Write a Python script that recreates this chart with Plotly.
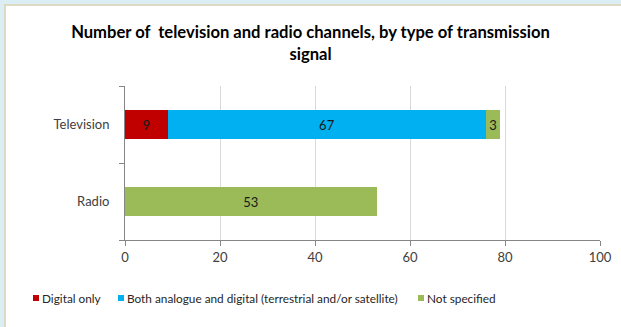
import plotly.graph_objects as go

categories = ["Radio", "Television"]
digital_only = [0, 9]
both_analogue_digital = [0, 67]
not_specified = [53, 3]
series_names = ["Digital only",
                "Both analogue and digital (terrestrial and/or satellite)",
                "Not specified"]
x_ticks = [0, 20, 40, 60, 80, 100]

colors = ["#C00000", "#00B0F0", "#9BBB59"]
font = "Lato, Calibri, sans-serif"

fig = go.Figure()
for name, vals, col in zip(series_names, [digital_only, both_analogue_digital, not_specified], colors):
    fig.add_trace(go.Bar(
        y=categories, x=vals, name=name, orientation="h",
        marker=dict(color=col, line=dict(width=0)),
        text=[str(v) if v else "" for v in vals],
        textposition="inside", insidetextanchor="middle",
        textfont=dict(color="#1a1a1a", size=13, family=font),
        hoverinfo="x+name", showlegend=False,
    ))

L, R, T, B = 125, 21, 86, 87
W, H = 621, 327
pw, ph = W - L - R, H - T - B

def px(x):
    return (x - L) / pw

def py(y):
    return (H - B - y) / ph

# hand-drawn legend: small squares + labels, like the original
legend_x = [33, 118, 418]
shapes = [dict(type="rect", xref="paper", yref="paper", layer="below",
               x0=px(5), x1=px(W + 10), y0=py(H + 10), y1=py(5),
               fillcolor="white", line=dict(color="#DDD9C3", width=2))]
annotations = []
for name, col, lx in zip(series_names, colors, legend_x):
    shapes.append(dict(type="rect", xref="paper", yref="paper",
                       x0=px(lx), x1=px(lx + 6), y0=py(301), y1=py(295),
                       fillcolor=col, line=dict(width=0)))
    annotations.append(dict(text=name, xref="paper", yref="paper",
                            x=px(lx + 7), y=py(298), xanchor="left", yanchor="middle",
                            showarrow=False, font=dict(size=11.8, color="#262626", family=font)))

fig.update_layout(
    barmode="stack",
    bargap=0.62,
    width=W, height=H,
    margin=dict(l=L, r=R, t=T, b=B, autoexpand=False),
    paper_bgcolor="#DAEEF3",
    plot_bgcolor="white",
    font=dict(family=font, color="#404040", size=12),
    title=dict(
        text="<b>Number of  television and radio channels, by type of transmission<br>signal</b>",
        x=0.5, xanchor="center", y=1 - 38 / H, yanchor="top",
        font=dict(size=16.6, color="black", family=font),
    ),
    showlegend=False,
    shapes=shapes,
    annotations=annotations,
)
fig.update_xaxes(
    range=[0, 100], tickvals=x_ticks, showgrid=True, gridcolor="#D9D9D9", gridwidth=1,
    showline=True, linecolor="#868686", ticks="outside", ticklen=5, tickcolor="#868686",
    zeroline=False, tickfont=dict(size=13, color="#404040"), fixedrange=True,
    automargin=False,
)
fig.update_yaxes(
    categoryorder="array", categoryarray=categories,
    showline=True, linecolor="#868686", ticks="outside", ticklen=5, tickcolor="#868686",
    tickson="boundaries", showgrid=False, ticklabelstandoff=12,
    tickfont=dict(size=13, color="#404040"), fixedrange=True,
    automargin=False,
)

# the page body has an 8px default margin; drop it so the figure sits at 0,0
fig.write_html("out.html", config={"displayModeBar": False},
               post_script="document.body.style.margin='0';")
